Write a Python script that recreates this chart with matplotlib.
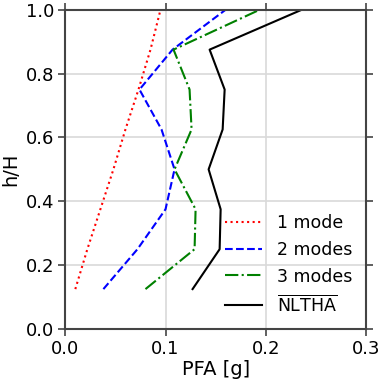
import matplotlib
matplotlib.use("Agg")
import matplotlib.pyplot as plt

h = [0.125, 0.25, 0.375, 0.5, 0.625, 0.75, 0.875, 1.0]
pfa_1mode = [0.010, 0.022, 0.035, 0.048, 0.060, 0.073, 0.085, 0.095]
pfa_2modes = [0.038, 0.072, 0.100, 0.109, 0.096, 0.074, 0.107, 0.160]
pfa_3modes = [0.080, 0.129, 0.130, 0.109, 0.126, 0.124, 0.108, 0.194]
pfa_nltha = [0.127, 0.154, 0.155, 0.143, 0.157, 0.159, 0.144, 0.236]

xticks = [0.0, 0.1, 0.2, 0.3]
yticks = [0.0, 0.2, 0.4, 0.6, 0.8, 1.0]

fig = plt.figure(figsize=(3.83, 3.84), dpi=100)
ax = fig.add_axes([0.1705, 0.1432, 0.785, 0.8315])

ax.plot(pfa_1mode, h, color="red", linestyle=":", lw=1.5, label="1 mode")
ax.plot(pfa_2modes, h, color="blue", linestyle="--", lw=1.5, label="2 modes")
ax.plot(pfa_3modes, h, color="green", linestyle="-.", lw=1.5, label="3 modes")
ax.plot(pfa_nltha, h, color="black", linestyle="-", lw=1.5, label=r"$\overline{\mathrm{NLTHA}}$")

ax.set_xlim(0, 0.3)
ax.set_ylim(0, 1.0)
ax.set_xticks(xticks)
ax.set_yticks(yticks)
ax.set_xticklabels([f"{v:.1f}" for v in xticks])
ax.set_yticklabels([f"{v:.1f}" for v in yticks])
ax.grid(True, color="#d9d9d9", lw=1.2)
ax.set_axisbelow(True)
ax.tick_params(axis="both", which="both", direction="out", top=True, right=True,
               labelsize=13, length=5, width=1.2, color="#444444", pad=3)
for s in ax.spines.values():
    s.set_color("#444444")
    s.set_linewidth(1.5)
ax.set_xlabel("PFA [g]", fontsize=14, labelpad=1)
ax.set_ylabel("h/H", fontsize=14, labelpad=4)
ax.legend(loc="lower right", frameon=False, fontsize=12.5, handlelength=2.1,
          borderaxespad=0.4, labelspacing=0.5, handletextpad=0.85,
          bbox_to_anchor=(1.0, 0.0))

fig.savefig("out.png", dpi=100)
